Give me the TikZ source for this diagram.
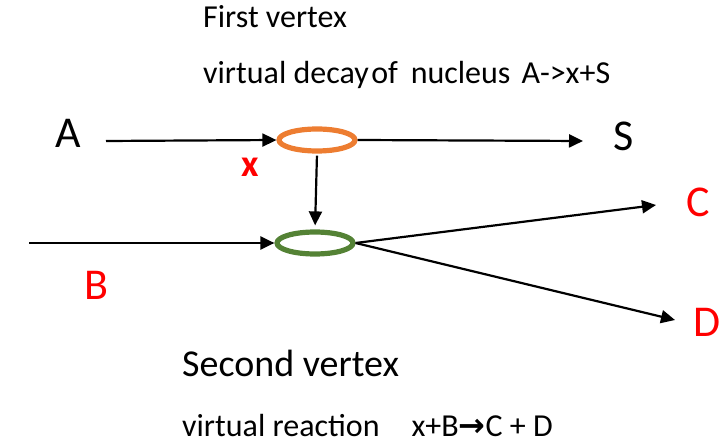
\documentclass[tikz,border=0pt]{standalone}
\usepackage{fontspec}
\setmainfont{Carlito}
\newfontfamily\symfont{DejaVu Sans}
\usetikzlibrary{shapes.geometric,arrows.meta}
\definecolor{vorange}{RGB}{237,125,49}
\definecolor{vgreen}{RGB}{84,130,53}
\definecolor{pred}{RGB}{255,0,0}
\tikzset{
  vtx/.style={ellipse,draw,line width=5.2pt,inner sep=0pt,minimum width=76pt,minimum height=22pt},
  flow/.style={line width=2.2pt,-{Triangle[length=14pt,width=13pt]}},
  big/.style={inner sep=0pt,font=\fontsize{44}{50}\selectfont},
  caption/.style={inner sep=0pt,anchor=base west,font=\fontsize{32}{38}\selectfont},
}
\begin{document}
\begin{tikzpicture}[x=1pt,y=-1pt]
\useasboundingbox (0,0) rectangle (728,443);
% vertices
\node[vtx,draw=vorange] (v1) at (317,140) {};
\node[vtx,draw=vgreen] (v2) at (315,243) {};
% particle labels
\node[big] (A) at (68,133) {A};
\node[big] (S) at (624,136) {S};
\node[big,text=pred] (B) at (96,285) {B};
\node[big,text=pred] (C) at (698,202) {C};
\node[big,text=pred] (D) at (707,322) {D};
\node[inner sep=0pt,text=pred,font=\fontsize{38}{44}\selectfont\bfseries] (x) at (250,167) {x};
% free line ends
\coordinate (ain) at (106,141);
\coordinate (bin) at (29,243);
\coordinate (sout) at (583,141);
\coordinate (cout) at (656,205);
\coordinate (dout) at (675,320);
% propagators
\draw[flow] (ain) -- (v1.west);
\draw[flow] (bin) -- (v2.west);
\draw[flow] (v1.east) -- (sout);
\draw[flow,shorten <=2pt,shorten >=4pt] (v1.south) -- (v2.north);
\draw[flow] (v2.east) -- (cout);
\draw[flow] (v2.east) -- (dout);
% captions
\node[caption] (t1) at (203,28) {First vertex};
\node[caption] (t2) at (203,84) {virtual decay\hspace{0.08em}of\hspace{0.4em}nucleus\hspace{0.35em}A->x+S};
\node[caption,font=\fontsize{38}{44}\selectfont] (t3) at (182,377) {Second vertex};
\node[caption] (t4) at (182,436) {virtual reaction\hspace{1em}x+B{\symfont\bfseries →}C + D};
\end{tikzpicture}
\end{document}
